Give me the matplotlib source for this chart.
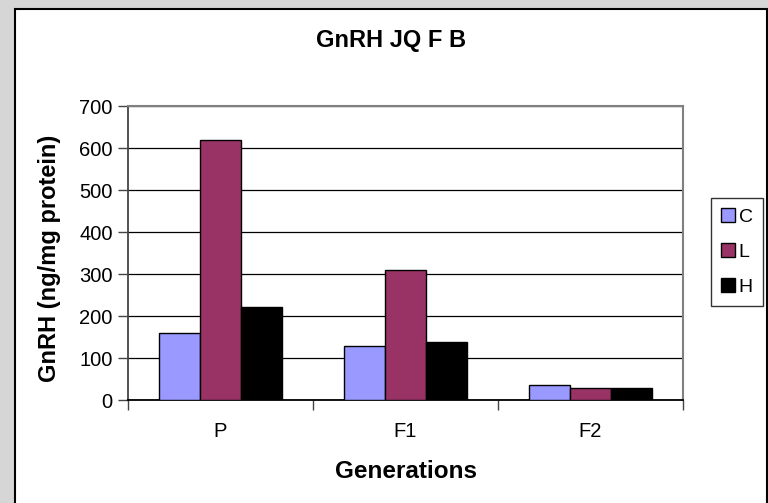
import matplotlib.pyplot as plt
import matplotlib.patches as mpatches
import numpy as np

# values
generations = ['P', 'F1', 'F2']
series_names = ['C', 'L', 'H']
c_vals = [160, 128, 36]
l_vals = [620, 310, 28]
h_vals = [222, 137, 28]
colors = ['#9999ff', '#993366', '#000000']
y_ticks = [0, 100, 200, 300, 400, 500, 600, 700]

plt.rcParams['font.family'] = ['Liberation Sans', 'DejaVu Sans']

W, H = 768, 503
fig = plt.figure(figsize=(W / 100, H / 100), dpi=100)
fig.patch.set_facecolor('#d6d6d6')

# white chart area with a black frame
fig.patches.append(mpatches.Rectangle((15 / W, -0.01), (767 - 15) / W, 1 - 9 / H + 0.01,
                                      transform=fig.transFigure, facecolor='white',
                                      edgecolor='black', linewidth=1.5, zorder=-5))

ax = fig.add_axes([128 / W, 1 - 400 / H, (683 - 128) / W, (400 - 106) / H])
ax.set_zorder(2)
ax.set_facecolor('white')

x = np.arange(len(generations))
w = 1 / 4.5
for i, (name, vals) in enumerate(zip(series_names, [c_vals, l_vals, h_vals])):
    ax.bar(x + (i - 1) * w, vals, w, color=colors[i], edgecolor='black',
           linewidth=1, label=name, zorder=3)

ax.set_xlim(-0.5, 2.5)
ax.set_ylim(0, 700)
ax.set_yticks(y_ticks)
ax.yaxis.grid(True, color='black', linewidth=0.9, zorder=0)
ax.set_axisbelow(True)

ax.set_xticks(x)
ax.set_xticklabels(generations)
ax.set_xticks([-0.5, 0.5, 1.5, 2.5], minor=True)
ax.tick_params(axis='x', which='major', length=0, pad=16, labelsize=14.5)
ax.tick_params(axis='x', which='minor', length=7, width=1, direction='out', color='#444444')
ax.tick_params(axis='y', length=7, width=1, direction='out', labelsize=14.5, pad=4,
               color='#444444')

for side in ['top', 'right']:
    ax.spines[side].set_color('#808080')
    ax.spines[side].set_linewidth(1.5)
ax.spines['left'].set_color('#444444')
ax.spines['left'].set_linewidth(1.3)
ax.spines['bottom'].set_color('black')
ax.spines['bottom'].set_linewidth(1.3)

fig.text(391 / W, 1 - 40 / H, 'GnRH JQ F B', ha='center', va='center',
         fontsize=17, fontweight='bold')
fig.text(50 / W, 1 - 258 / H, 'GnRH (ng/mg protein)', ha='center', va='center',
         rotation=90, fontsize=17, fontweight='bold')
fig.text(406 / W, 1 - 471 / H, 'Generations', ha='center', va='center',
         fontsize=17.5, fontweight='bold')

fig.legend(loc='center', bbox_to_anchor=(737 / W, 1 - 252 / H), frameon=True,
           fancybox=False, edgecolor='black', fontsize=14, handlelength=0.7,
           handleheight=0.7, handletextpad=0.2, labelspacing=0.9, borderpad=0.5,
           borderaxespad=0)

fig.savefig('out.png', dpi=100, facecolor=fig.get_facecolor())
